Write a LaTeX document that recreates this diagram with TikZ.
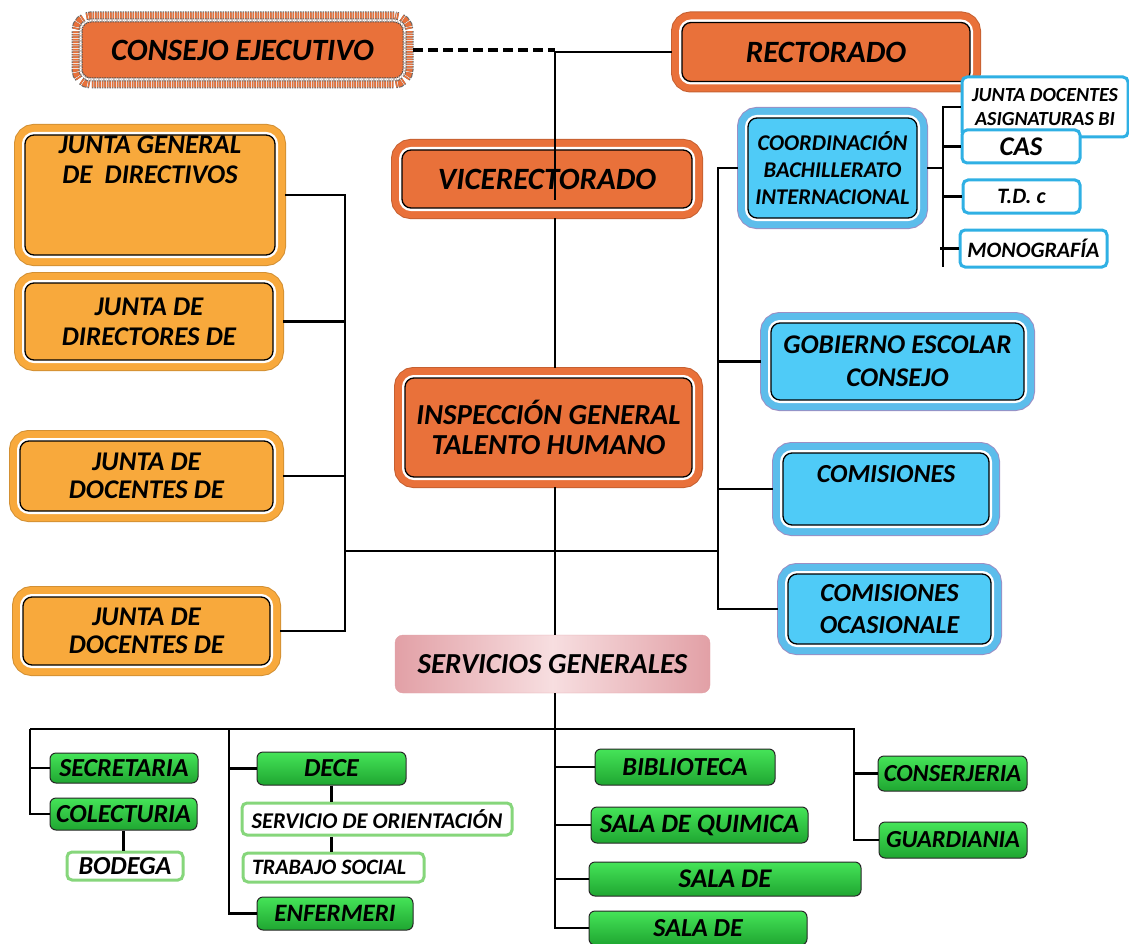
\documentclass[tikz,border=0pt]{standalone}
\usepackage{fontspec}
\setmainfont{Carlito}
\usepackage{xcolor}
\usepackage{tikz}
\usetikzlibrary{positioning, calc}
\definecolor{orgDark}{HTML}{E9713A}
\definecolor{orgLight}{HTML}{F8A93C}
\definecolor{bluFill}{HTML}{4FCBF7}
\definecolor{bluRing}{HTML}{5CBDEB}
\definecolor{bluEdge}{HTML}{9C8FC4}
\definecolor{grnTop}{HTML}{45E458}
\definecolor{grnBot}{HTML}{1FA631}
\definecolor{grnLine}{HTML}{86D67B}
\definecolor{bluLine}{HTML}{2FB0E4}
\definecolor{pnkEdge}{HTML}{E2A0A6}
\definecolor{pnkMid}{HTML}{F7DEE0}
\tikzstyle{link} = [line width=2.4pt]

\begin{document}
\begin{tikzpicture}[x=1pt, y=-1pt,
        % Define styles for the boxes of the chart
        fsz/.style 2 args={font=\fontsize{#1}{#2}\selectfont\bfseries\itshape},
        ring_box/.style n args={3}{draw=black, line width=1.3pt, fill=#1, rounded corners=9pt,
            outer sep=10pt, inner sep=2pt, align=center,
            preaction={draw=#3, line width=22pt},
            preaction={draw=#2, line width=20pt},
            preaction={draw=white, line width=6pt}},
        orange_box/.style={ring_box={orgDark}{orgDark}{orgDark!85!black}},
        amber_box/.style={ring_box={orgLight}{orgLight}{orgLight!85!black}},
        blue_box/.style={ring_box={bluFill}{bluRing}{bluEdge}},
        consejo_box/.style={draw=black!70, line width=1pt, dash pattern=on 1.5pt off 1pt,
            fill=orgDark, rounded corners=9pt, outer sep=10pt, inner sep=2pt,
            preaction={draw=black!60, line width=21pt, dash pattern=on 1.5pt off 1pt},
            preaction={draw=orgDark, line width=19pt},
            preaction={draw=black!60, line width=7pt, dash pattern=on 1.5pt off 1pt},
            preaction={draw=white, line width=5pt}},
        serv_box/.style={rounded corners=8pt, left color=pnkEdge, right color=pnkEdge,
            middle color=pnkMid, draw=pnkEdge, inner sep=2pt},
        green_box/.style={draw=black!85, line width=1pt, rounded corners=6pt,
            top color=grnTop, bottom color=grnBot, inner sep=2pt},
        white_green/.style={draw=grnLine, line width=3pt, fill=white, rounded corners=5pt, inner sep=2pt},
        white_blue/.style={draw=bluLine, line width=3pt, fill=white, rounded corners=5pt, inner sep=2pt, align=center}
    ]
        \useasboundingbox (0,0) rectangle (1129,944);

        % --- Top of the chart ---
        \node (consejo) [consejo_box, minimum width=321pt, minimum height=56pt, fsz={31}{33}] at (242.5,50) {CONSEJO EJECUTIVO};
        \node (rectorado) [orange_box, minimum width=288pt, minimum height=59pt, fsz={31}{33}] at (826,52) {RECTORADO};
        \node (vicerrect) [orange_box, minimum width=290pt, minimum height=58pt, fsz={31}{33}] at (547,179) {VICERECTORADO};
        \node (inspeccion) [orange_box, minimum width=287pt, minimum height=99pt, fsz={29}{30}] at (548.5,427.5) {INSPECCIÓN GENERAL\\TALENTO HUMANO};

        % --- Left column of boards ---
        \node (junta_gen) [amber_box, minimum width=250pt, minimum height=120pt, fsz={27}{30}] at (150,195)
            {\raisebox{26pt}[0pt][0pt]{\begin{tabular}{@{}c@{}}JUNTA GENERAL\\DE~~DIRECTIVOS\end{tabular}}};
        \node (junta_dir) [amber_box, minimum width=248pt, minimum height=77pt, fsz={27}{30}] at (149,321.5) {JUNTA DE\\DIRECTORES DE};
        \node (junta_doc_a) [amber_box, minimum width=253pt, minimum height=70pt, fsz={27}{28}] at (146.5,476) {JUNTA DE\\DOCENTES DE};
        \node (junta_doc_b) [amber_box, minimum width=247pt, minimum height=68pt, fsz={27}{28}] at (146.5,631) {JUNTA DE\\DOCENTES DE};

        % --- Right column ---
        \node (coord_bi) [blue_box, minimum width=169pt, minimum height=100pt, fsz={22.5}{27}] at (832.5,168) {COORDINACIÓN\\BACHILLERATO\\INTERNACIONAL};
        \node (gobierno) [blue_box, minimum width=253pt, minimum height=77pt, fsz={27}{33}] at (897.5,361.5) {GOBIERNO ESCOLAR\\CONSEJO};
        \node (comisiones) [blue_box, minimum width=206pt, minimum height=72pt, fsz={26}{28}] at (886,489) {\raisebox{7pt}[0pt][0pt]{COMISIONES}};
        \node (comis_ocas) [blue_box, minimum width=203pt, minimum height=70pt, fsz={26}{32}] at (889.5,609) {COMISIONES\\OCASIONALE};

        % --- Bachillerato internacional units ---
        \node (junta_bi) [white_blue, minimum width=166pt, minimum height=60pt, fsz={20}{24}] at (1045,107) {JUNTA DOCENTES\\ASIGNATURAS BI};
        \node (cas) [white_blue, minimum width=118pt, minimum height=33pt, fsz={27}{28}] at (1021,146.5) {CAS};
        \node (tdc) [white_blue, minimum width=117pt, minimum height=33pt, fsz={22}{24}] at (1021.5,196.5) {T.D. c};
        \node (monografia) [white_blue, minimum width=147pt, minimum height=37pt, fsz={22}{24}] at (1033.5,248.5) {MONOGRAFÍA};

        % --- General services ---
        \node (servicios) [serv_box, minimum width=315pt, minimum height=58pt, fsz={29}{30}] at (552.5,664) {SERVICIOS GENERALES};

        \node (secretaria) [green_box, minimum width=148pt, minimum height=30pt, fsz={26}{28}] at (124,768) {SECRETARIA};
        \node (colecturia) [green_box, minimum width=147pt, minimum height=32pt, fsz={26}{28}] at (123.5,814) {COLECTURIA};
        \node (bodega) [white_green, minimum width=116pt, minimum height=28pt, fsz={26}{28}] at (125,866) {BODEGA};
        \node (dece) [green_box, minimum width=149pt, minimum height=33pt, fsz={26}{28}] at (331.5,768.5) {DECE};
        \node (orientacion) [white_green, minimum width=270pt, minimum height=32pt, fsz={22.5}{24}] at (377,819) {SERVICIO DE ORIENTACIÓN};
        \node (trabajo) [white_green, text width=163pt, inner xsep=9pt, minimum height=29pt, align=flush left, fsz={22}{24}] at (333.5,867.5) {TRABAJO SOCIAL};
        \node (enfermeria) [green_box, minimum width=156pt, minimum height=33pt, fsz={25}{27}] at (335,913.5) {ENFERMERI};
        \node (biblioteca) [green_box, minimum width=180pt, minimum height=36pt, fsz={26}{28}] at (685,767) {BIBLIOTECA};
        \node (quimica) [green_box, minimum width=217pt, minimum height=36pt, fsz={26.5}{28}] at (699.5,825) {SALA DE QUIMICA};
        \node (sala_a) [green_box, minimum width=272pt, minimum height=34pt, fsz={27}{28}] at (725,879) {SALA DE};
        \node (sala_b) [green_box, minimum width=218pt, minimum height=34pt, fsz={26}{28}] at (698,928) {SALA DE};
        \node (conserjeria) [green_box, minimum width=149pt, minimum height=35pt, fsz={24.5}{26}] at (952.5,773.5) {CONSERJERIA};
        \node (guardiania) [green_box, minimum width=148pt, minimum height=36pt, fsz={24.5}{26}] at (953,840) {GUARDIANIA};

        % --- Junction points of the lines ---
        \coordinate (top_j) at (rectorado.west -| 555,0);
        \coordinate (vice_in) at (555,200);
        \coordinate (left_v) at (345,0);
        \coordinate (right_v) at (718,0);
        \coordinate (mid_h) at (345,551);
        \coordinate (bi_v) at (943,0);
        \coordinate (bi_end) at (943,267);
        \coordinate (bus_l) at (30,729);
        \coordinate (bus_m) at (229,729);
        \coordinate (bus_r) at (854,729);

        % --- Main trunk ---
        \draw[link, line width=3.2pt, dash pattern=on 10pt off 5pt] (consejo.east) -- (consejo.east -| top_j);
        \draw[link] (top_j) -- (rectorado.west);
        \draw[link] (top_j) -- (vice_in);
        \draw[link] (vicerrect.south -| top_j) -- (inspeccion.north -| top_j);
        \draw[link] (inspeccion.south -| top_j) -- (servicios.north -| top_j);
        \draw[link] (servicios.south -| top_j) |- (sala_b.west);

        % --- Left and right branches ---
        \draw[link] (junta_gen.east) -| (left_v |- junta_doc_b.east) -- (junta_doc_b.east);
        \draw[link] (junta_dir.east) -- (junta_dir.east -| left_v);
        \draw[link] (junta_doc_a.east) -- (junta_doc_a.east -| left_v);
        \draw[link] (mid_h) -- (mid_h -| right_v);
        \draw[link] (coord_bi.west) -| (right_v |- comis_ocas.west) -- (comis_ocas.west);
        \draw[link] (gobierno.west) -- (gobierno.west -| right_v);
        \draw[link] (comisiones.west) -- (comisiones.west -| right_v);

        % --- Bachillerato internacional bracket ---
        \draw[link] (coord_bi.east) -- (coord_bi.east -| bi_v);
        \draw[link] (junta_bi.west) -| (bi_end);
        \draw[link] (cas.west) -- (cas.west -| bi_v);
        \draw[link] (tdc.west) -- (tdc.west -| bi_v);
        \draw[link] (monografia.west) -- ($(monografia.west -| bi_v)+(-3,0)$);

        % --- Services bus ---
        \draw[link] (bus_l) -- (bus_r) |- (guardiania.west);
        \draw[link] (bus_l) |- (colecturia.west);
        \draw[link] (secretaria.west) -- (secretaria.west -| bus_l);
        \draw[link] (bus_m) |- (enfermeria.west);
        \draw[link] (dece.west) -- (dece.west -| bus_m);
        \draw[link] (conserjeria.west) -- (conserjeria.west -| bus_r);
        \draw[link] (biblioteca.west) -- (biblioteca.west -| top_j);
        \draw[link] (quimica.west) -- (quimica.west -| top_j);
        \draw[link] (sala_a.west) -- (sala_a.west -| top_j);
        \draw[link] (colecturia.south) -- (colecturia.south |- bodega.north);
        \draw[link] (dece.south) -- (dece.south |- orientacion.north);
        \draw[link] (dece.south |- orientacion.south) -- (dece.south |- trabajo.north);
\end{tikzpicture}
\end{document}
